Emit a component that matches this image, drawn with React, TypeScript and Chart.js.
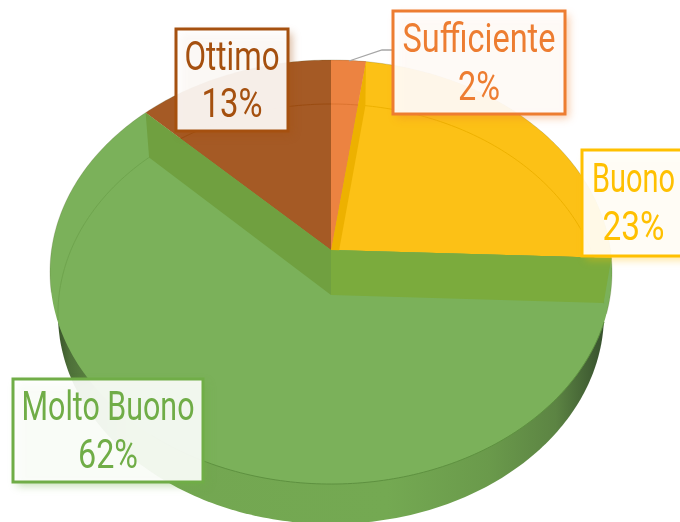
import React, { useEffect, useRef } from "react";
import { Chart, registerables } from "chart.js";

Chart.register(...registerables);

const categories = ["Sufficiente", "Buono", "Molto Buono", "Ottimo"];
const values = [2.2, 23.4, 61.8, 12.6];
const percentLabels = ["2%", "23%", "62%", "13%"];

const fills = ["#EC8341", "#FCC116", "#7BB15A", "#A55A25"];
const lineColors = ["#DB7430", "#EDB100", "#6FA44E", "#9A4C12"];
const textColors = ["#ED7D31", "#FFC000", "#70AD47", "#A5500F"];
const boxes = [
  { x: 393, y: 11, w: 172, h: 103, cx: 479, b1: 52, b2: 100, w1: 153, w2: 42 },
  { x: 582, y: 150, w: 104, h: 106, cx: 633.5, b1: 192, b2: 240, w1: 83, w2: 62 },
  { x: 13, y: 379, w: 190, h: 103, cx: 108, b1: 420, b2: 468, w1: 173, w2: 60 },
  { x: 176, y: 29, w: 112, h: 102, cx: 232, b1: 70, b2: 117, w1: 95, w2: 61 },
];

const top = { cx: 331, apex: 250, R: 279.5, a: 183.8, c: -0.1038 };
const base = { cx: 331, apex: 295, R: 271.9, a: 181.6, c: -0.0905 };
type Surface = typeof top;

function project(s: Surface, theta: number, r = 1): [number, number] {
  const u = r * Math.cos(theta);
  const v = r * Math.sin(theta);
  const w = 1 + s.c * v;
  return [s.cx + (s.R * u) / w, (s.a * v + s.apex) / w];
}

function traceArc(ctx: CanvasRenderingContext2D, s: Surface, a0: number, a1: number, move = false) {
  const n = Math.max(8, Math.ceil((a1 - a0) * 60));
  for (let i = 0; i <= n; i++) {
    const [x, y] = project(s, a0 + ((a1 - a0) * i) / n);
    if (i === 0 && move) ctx.moveTo(x, y);
    else ctx.lineTo(x, y);
  }
}

function tracePoly(ctx: CanvasRenderingContext2D, pts: [number, number][]) {
  ctx.beginPath();
  pts.forEach(([x, y], i) => (i ? ctx.lineTo(x, y) : ctx.moveTo(x, y)));
  ctx.closePath();
}

const pie3d = {
  id: "pie3d",
  beforeDatasetsDraw(chart: any) {
    const ctx: CanvasRenderingContext2D = chart.ctx;
    const arcs = chart.getDatasetMeta(0).data as any[];
    ctx.save();

    // outer wall
    const wall = ctx.createLinearGradient(50, 0, 612, 0);
    wall.addColorStop(0, "#2B4221");
    wall.addColorStop(0.035, "#4E7039");
    wall.addColorStop(0.14, "#73A651");
    wall.addColorStop(0.6, "#74A952");
    wall.addColorStop(0.78, "#6A9A4B");
    wall.addColorStop(0.9, "#5C8443");
    wall.addColorStop(1, "#31482A");
    ctx.beginPath();
    traceArc(ctx, base, 0, Math.PI * 2, true);
    ctx.closePath();
    ctx.fillStyle = wall;
    ctx.fill();

    // top face
    arcs.forEach((arc, i) => {
      ctx.beginPath();
      ctx.moveTo(top.cx, top.apex);
      traceArc(ctx, top, arc.startAngle, arc.endAngle);
      ctx.closePath();
      ctx.fillStyle = fills[i];
      ctx.fill();
    });

    // back half of the base rim, seen through each slice
    arcs.forEach((arc, i) => {
      ctx.save();
      ctx.beginPath();
      ctx.moveTo(top.cx, top.apex);
      traceArc(ctx, top, arc.startAngle, arc.endAngle);
      ctx.closePath();
      ctx.clip();
      ctx.beginPath();
      traceArc(ctx, base, Math.PI - 0.12, Math.PI * 2 + 0.04, true);
      ctx.strokeStyle = lineColors[i];
      ctx.lineWidth = 1;
      ctx.stroke();
      ctx.restore();
    });

    // inner walls seen through the face
    const wallAt = (t: number): [number, number][] => [
      [top.cx, top.apex],
      project(top, t),
      project(base, t),
      [base.cx, base.apex],
    ];
    tracePoly(ctx, wallAt(arcs[0].endAngle));
    ctx.fillStyle = "#EDB100";
    ctx.fill();
    tracePoly(ctx, wallAt(arcs[3].startAngle));
    ctx.fillStyle = "#70A040";
    ctx.fill();
    tracePoly(ctx, wallAt(arcs[1].endAngle));
    ctx.fillStyle = "#7BAB3D";
    ctx.fill();

    // orange slice stays on top of the yellow wall's back edge
    ctx.beginPath();
    ctx.moveTo(top.cx, top.apex);
    traceArc(ctx, top, arcs[0].startAngle, arcs[0].endAngle);
    ctx.closePath();
    ctx.fillStyle = fills[0];
    ctx.fill();
    ctx.save();
    ctx.clip();
    ctx.beginPath();
    traceArc(ctx, base, arcs[0].startAngle - 0.1, arcs[0].endAngle + 0.1, true);
    ctx.strokeStyle = lineColors[0];
    ctx.stroke();
    ctx.restore();

    // front rim of the face
    ctx.beginPath();
    traceArc(ctx, top, arcs[1].endAngle + 0.3, 2.2, true);
    ctx.strokeStyle = "#5E9140";
    ctx.lineWidth = 1;
    ctx.stroke();
    // thin darker outline on the back of the disc
    ctx.beginPath();
    traceArc(ctx, top, Math.PI - 0.2, Math.PI * 2 + 0.3, true);
    ctx.strokeStyle = "rgba(70,80,30,0.2)";
    ctx.stroke();

    ctx.restore();
    return false;
  },
  afterDraw(chart: any) {
    const ctx: CanvasRenderingContext2D = chart.ctx;
    ctx.save();
    // leader line
    ctx.beginPath();
    ctx.moveTo(349, 61);
    ctx.lineTo(382, 50);
    ctx.lineTo(393, 50);
    ctx.strokeStyle = "#A6A6A6";
    ctx.lineWidth = 1.3;
    ctx.stroke();

    categories.forEach((name, i) => {
      const b = boxes[i];
      ctx.save();
      ctx.shadowColor = textColors[i] + "70";
      ctx.shadowBlur = 8;
      ctx.shadowOffsetX = 4;
      ctx.shadowOffsetY = 4;
      ctx.fillStyle = "#fff";
      ctx.globalAlpha = 0.9;
      ctx.fillRect(b.x, b.y, b.w, b.h);
      ctx.restore();
      ctx.strokeStyle = textColors[i];
      ctx.lineWidth = 3;
      ctx.strokeRect(b.x, b.y, b.w, b.h);
      ctx.fillStyle = textColors[i];
      ctx.textAlign = "center";
      ctx.textBaseline = "alphabetic";
      ctx.font = '40px Roboto, "Liberation Sans"';
      ctx.fillText(name, b.cx, b.b1, b.w1);
      ctx.fillText(percentLabels[i], b.cx, b.b2, b.w2);
    });
    ctx.restore();
  },
};

export default function App() {
  const ref = useRef<HTMLCanvasElement>(null);
  useEffect(() => {
    document.body.style.margin = "0";
    const chart = new Chart(ref.current!, {
      type: "pie",
      data: {
        labels: categories,
        datasets: [{ data: values, backgroundColor: fills, borderWidth: 0 }],
      },
      options: {
        animation: false,
        responsive: false,
        plugins: { legend: { display: false }, tooltip: { enabled: false } },
      },
      plugins: [pie3d],
    } as any);
    return () => chart.destroy();
  }, []);
  return <canvas ref={ref} width={680} height={522} style={{ display: "block" }} />;
}
